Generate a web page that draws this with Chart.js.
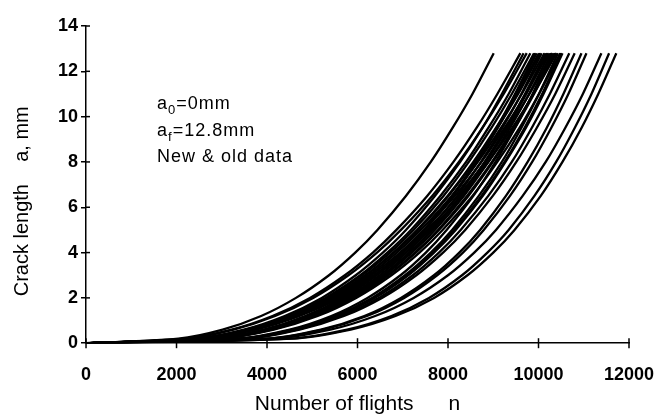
<!DOCTYPE html>
<html>
<head>
<meta charset="utf-8">
<script src="https://cdn.jsdelivr.net/npm/chart.js@4.4.0/dist/chart.umd.min.js"></script>
<style>
  html, body { margin: 0; padding: 0; background: #fff; }
  #wrap { width: 661px; height: 419px; }
</style>
</head>
<body>
<div id="wrap"><canvas id="crack"></canvas></div>
<script>
const crackLevels = [0, 0.2, 0.6, 1.2, 2, 3, 4, 5, 6.5, 8, 9.5, 11, 12.8];

// number of flights at those crack lengths, one row per test
const flightCurves = [
  [0, 2040, 3020, 3870, 4640, 5370, 5950, 6440, 7070, 7620, 8100, 8540, 9010],
  [0, 2170, 3220, 4120, 4950, 5720, 6340, 6860, 7540, 8120, 8630, 9090, 9600],
  [0, 2420, 3490, 4390, 5210, 5960, 6560, 7070, 7710, 8270, 8760, 9190, 9670],
  [0, 2210, 3260, 4180, 5020, 5800, 6430, 6960, 7650, 8240, 8760, 9230, 9740],
  [0, 2460, 3540, 4460, 5290, 6060, 6660, 7180, 7830, 8400, 8890, 9340, 9820],
  [0, 2480, 3570, 4500, 5330, 6100, 6720, 7240, 7900, 8460, 8960, 9410, 9900],
  [0, 2820, 3930, 4850, 5660, 6400, 6980, 7470, 8090, 8610, 9070, 9480, 9930],
  [0, 2820, 3940, 4860, 5680, 6420, 7000, 7490, 8110, 8640, 9100, 9510, 9960],
  [0, 2500, 3610, 4550, 5390, 6170, 6790, 7320, 7990, 8560, 9060, 9520, 10010],
  [0, 2510, 3620, 4560, 5410, 6190, 6810, 7340, 8010, 8580, 9090, 9550, 10040],
  [0, 2860, 3980, 4920, 5740, 6490, 7080, 7570, 8200, 8730, 9200, 9620, 10070],
  [0, 2530, 3650, 4600, 5460, 6250, 6870, 7400, 8080, 8660, 9170, 9630, 10130],
  [0, 2880, 4020, 4960, 5790, 6550, 7140, 7640, 8270, 8810, 9280, 9700, 10160],
  [0, 2890, 4030, 4970, 5810, 6570, 7160, 7660, 8300, 8840, 9310, 9730, 10190],
  [0, 2560, 3690, 4640, 5500, 6300, 6940, 7470, 8150, 8740, 9250, 9720, 10220],
  [0, 2910, 4050, 5000, 5840, 6600, 7200, 7710, 8350, 8890, 9370, 9790, 10250],
  [0, 3340, 4500, 5420, 6220, 6950, 7510, 7970, 8560, 9050, 9480, 9870, 10280],
  [0, 2580, 3720, 4680, 5550, 6360, 7000, 7540, 8230, 8820, 9330, 9800, 10310],
  [0, 2930, 4090, 5050, 5890, 6660, 7270, 7780, 8420, 8970, 9450, 9880, 10340],
  [0, 2940, 4100, 5060, 5910, 6680, 7290, 7800, 8450, 8990, 9480, 9900, 10370],
  [0, 2600, 3750, 4720, 5600, 6410, 7060, 7600, 8300, 8890, 9420, 9890, 10400],
  [0, 3390, 4560, 5500, 6320, 7050, 7620, 8090, 8680, 9190, 9620, 10010, 10430],
  [0, 2970, 4150, 5120, 5970, 6750, 7370, 7880, 8540, 9090, 9580, 10010, 10480],
  [0, 3410, 4590, 5540, 6360, 7100, 7670, 8140, 8740, 9250, 9690, 10080, 10500],
  [0, 3420, 4600, 5550, 6380, 7120, 7690, 8170, 8770, 9270, 9720, 10110, 10530],
  [0, 3470, 4670, 5630, 6470, 7220, 7800, 8280, 8890, 9410, 9850, 10250, 10680],
  [0, 3510, 4720, 5700, 6540, 7300, 7890, 8380, 8990, 9510, 9960, 10370, 10800],
  [0, 3970, 5190, 6150, 6960, 7690, 8250, 8710, 9280, 9760, 10180, 10550, 10950],
  [0, 4010, 5240, 6210, 7030, 7760, 8330, 8790, 9370, 9860, 10280, 10660, 11060],
  [0, 4130, 5400, 6390, 7240, 8000, 8580, 9060, 9650, 10160, 10590, 10980, 11390],
  [0, 4490, 5770, 6750, 7580, 8310, 8870, 9340, 9910, 10390, 10800, 11170, 11560],
  [0, 4550, 5850, 6840, 7690, 8430, 9000, 9470, 10050, 10530, 10950, 11320, 11720]
];

const xTickValues = [0, 2000, 4000, 6000, 8000, 10000, 12000];
const yTickValues = [0, 2, 4, 6, 8, 10, 12, 14];

// text block inside the plot: [text, isSubscript]
const noteLines = [
  [['a', 0], ['0', 1], ['=0mm', 0]],
  [['a', 0], ['f', 1], ['=12.8mm', 0]],
  [['New & old data', 0]]
];
const noteFlights = 1570;
const noteCrack = [10.35, 9.16, 7.99];

const FONT = '"Liberation Sans", Arial, sans-serif';
const SP = '\u00a0';

const datasets = flightCurves.map(row => ({
  data: row.map((n, i) => ({ x: n, y: crackLevels[i] })),
  borderColor: '#000',
  borderWidth: 2.3,
  pointRadius: 0,
  fill: false,
  tension: 0.3
}));

// tick marks cross the axis lines, like the original
const crossTicks = {
  id: 'crossTicks',
  afterDraw(chart) {
    const { ctx, scales: { x, y } } = chart;
    ctx.save();
    ctx.strokeStyle = '#000';
    ctx.lineWidth = 1.5;
    x.ticks.forEach(t => {
      const px = x.getPixelForValue(t.value);
      ctx.beginPath();
      ctx.moveTo(px, y.bottom + 5);
      ctx.lineTo(px, y.bottom - 5);
      ctx.stroke();
    });
    y.ticks.forEach(t => {
      const py = y.getPixelForValue(t.value);
      ctx.beginPath();
      ctx.moveTo(x.left, py);
      ctx.lineTo(x.left + 4, py);
      ctx.stroke();
    });
    ctx.restore();
  }
};

const notes = {
  id: 'notes',
  afterDraw(chart) {
    const { ctx, scales: { x, y } } = chart;
    ctx.save();
    ctx.fillStyle = '#000';
    ctx.textBaseline = 'alphabetic';
    ctx.letterSpacing = '1px';
    noteLines.forEach((line, i) => {
      let px = x.getPixelForValue(noteFlights);
      const py = y.getPixelForValue(noteCrack[i]);
      line.forEach(([txt, sub]) => {
        ctx.font = (sub ? '13px ' : '18px ') + FONT;
        ctx.fillText(txt, px, sub ? py + 5 : py);
        px += ctx.measureText(txt).width;
      });
    });
    ctx.restore();
  }
};

new Chart(document.getElementById('crack'), {
  type: 'line',
  data: { datasets },
  plugins: [crossTicks, notes],
  options: {
    responsive: true,
    maintainAspectRatio: false,
    animation: false,
    layout: { padding: { left: 10, right: 32, top: 26, bottom: 2 } },
    plugins: { legend: { display: false }, tooltip: { enabled: false } },
    scales: {
      x: {
        type: 'linear',
        min: 0,
        max: 12000,
        afterBuildTicks: s => { s.ticks = xTickValues.map(v => ({ value: v })); },
        grid: { drawOnChartArea: false, drawTicks: true, tickLength: 21, tickColor: 'rgba(0,0,0,0)' },
        border: { display: true, color: '#000', width: 1.5 },
        ticks: {
          color: '#000', padding: 0, maxRotation: 0,
          callback: v => String(v),
          font: { family: FONT, size: 18, weight: 'bold' }
        },
        title: {
          display: true,
          text: 'Number of flights' + SP.repeat(6) + 'n',
          color: '#000',
          padding: { top: 6, bottom: 0 },
          font: { family: FONT, size: 21 }
        }
      },
      y: {
        type: 'linear',
        min: 0,
        max: 14,
        afterBuildTicks: s => { s.ticks = yTickValues.map(v => ({ value: v })); },
        grid: { drawOnChartArea: false, drawTicks: true, tickLength: 5, color: '#000', lineWidth: 1.5 },
        border: { display: true, color: '#000', width: 1.5 },
        ticks: { color: '#000', padding: 3, font: { family: FONT, size: 18, weight: 'bold' } },
        title: {
          display: true,
          text: 'Crack length' + SP.repeat(4) + 'a, mm' + SP.repeat(6),
          color: '#000',
          padding: { top: 0, bottom: 21 },
          font: { family: FONT, size: 20 }
        }
      }
    }
  }
});
</script>
</body>
</html>
